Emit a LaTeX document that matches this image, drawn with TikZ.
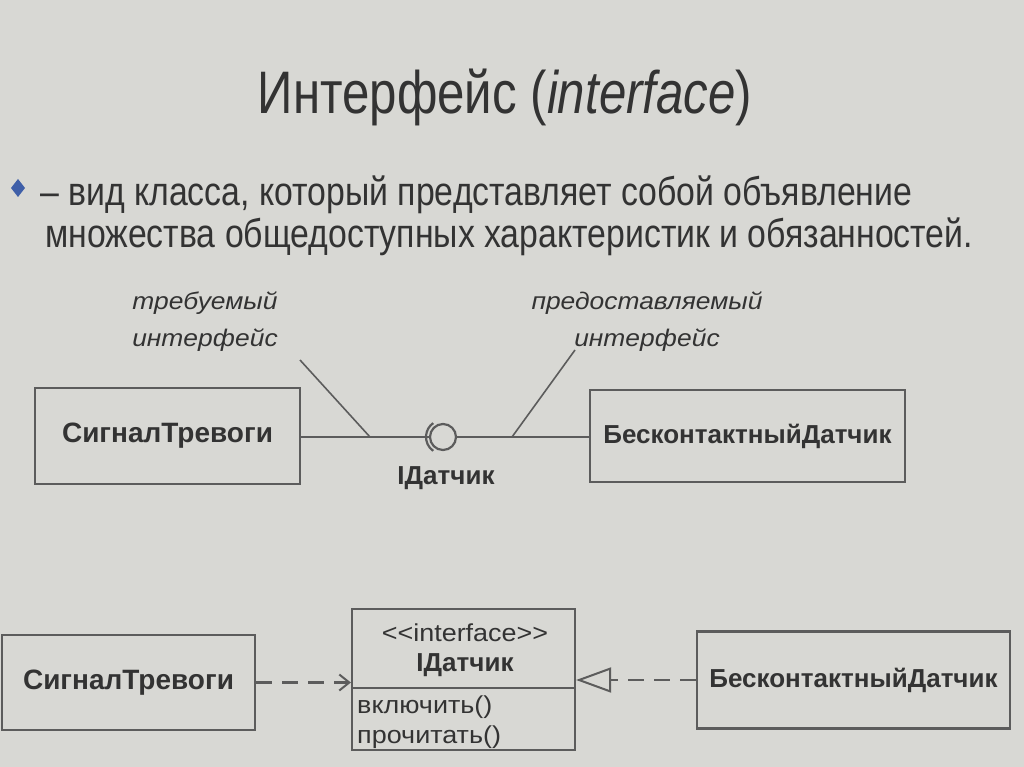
\documentclass[tikz,border=0pt]{standalone}
\usepackage{fontspec}
\setmainfont{Liberation Sans}
\newfontfamily\narrowfont[FakeStretch=0.82]{Liberation Sans}
\newfontfamily\bodyfont[FakeStretch=0.845]{Liberation Sans}
\newfontfamily\widefont[FakeStretch=1.1]{Liberation Sans}
\usetikzlibrary{arrows.meta}
\definecolor{bg}{HTML}{D8D8D4}
\definecolor{ink}{HTML}{333333}
\definecolor{ln}{HTML}{5C5C5C}
\definecolor{bul}{HTML}{3F5FA8}
\begin{document}
\begin{tikzpicture}[x=1pt,y=-1pt,
  cls/.style={draw=ln, line width=2.2pt, inner sep=0pt},
  clsname/.style={font=\fontsize{26}{30}\selectfont\bfseries, text=ink},
  note/.style={font=\widefont\fontsize{24}{37}\selectfont\itshape, text=ink, align=center},
  conn/.style={draw=ln, line width=2.2pt},
  dashconn/.style={conn, dash pattern=on 16pt off 10pt},
  body/.style={font=\bodyfont\fontsize{40}{42}\selectfont, text=ink, anchor=west, inner sep=0pt},
  small/.style={font=\widefont\fontsize{24.5}{28}\selectfont, text=ink}
]
\fill[bg] (0,0) rectangle (1024,767);
\useasboundingbox (0,0) rectangle (1024,767);

% title
\node[font=\narrowfont\fontsize{60}{64}\selectfont, text=ink] (title) at (505,97) {Интерфейс (\textit{interface})};

% bullet text
\fill[bul] (18,179) -- (25,188) -- (18,197) -- (11,188) -- cycle;
\node[body] (l1) at (40,195) {– вид класса, который представляет собой объявление};
\node[body] (l2) at (45,237) {множества общедоступных характеристик и обязанностей.};

% top diagram
\node[cls, minimum width=265pt, minimum height=96pt] (tl) at (167.5,436) {};
\node[clsname, font=\fontsize{28}{32}\selectfont\bfseries] at (tl.center) {СигналТревоги};
\node[cls, minimum width=315pt, minimum height=92pt] (tr) at (747.5,436) {};
\node[clsname] at (tr.center) {БесконтактныйДатчик};

\node[circle, draw=ln, line width=2.2pt, minimum size=26pt, inner sep=0pt] (ball) at (443,437) {};
\draw[conn] ([shift={(125:17)}]ball.center) arc[start angle=125, end angle=235, radius=17];
\draw[conn] (tl.east |- ball.west) -- (ball.west);
\draw[conn] (ball.east) -- (tr.west |- ball.east);
\node[clsname] (iname) at (446,478) {IДатчик};

\node[note] (req) at (205,322) {требуемый\\интерфейс};
\node[note] (prov) at (647,322) {предоставляемый\\интерфейс};
\coordinate (rqs) at (300,360);
\coordinate (rqe) at (370,437);
\coordinate (pvs) at (575,350);
\coordinate (pve) at (512,437);
\draw[line width=1.6pt, draw=ln] (rqs) -- (rqe);
\draw[line width=1.6pt, draw=ln] (pvs) -- (pve);

% bottom diagram
\node[cls, minimum width=253pt, minimum height=95pt] (bl) at (128.5,682.5) {};
\node[clsname, font=\fontsize{28}{32}\selectfont\bfseries] at (bl.center) {СигналТревоги};
\node[cls, minimum width=313pt, minimum height=97pt] (br) at (853.5,680) {};
\node[clsname] at (br.center) {БесконтактныйДатчик};

\node[cls, minimum width=223pt, minimum height=141pt] (ibox) at (463.5,679.5) {};
\coordinate (div) at (0,688);
\draw[conn] (ibox.west |- div) -- (ibox.east |- div);
\node[small] (stereo) at (465,633) {<{}<interface>{}>};
\node[clsname] (iname2) at (465,665) {IДатчик};
\node[small, anchor=west, inner sep=0pt] (op1) at (357,707) {включить()};
\node[small, anchor=west, inner sep=0pt] (op2) at (357,737) {прочитать()};

\draw[dashconn, -{Straight Barb[length=10pt, width=16pt, line width=2pt]}] (bl.east) -- (ibox.west |- bl.east);
\draw[dashconn, -{Triangle[open, fill=bg, length=35pt, width=25pt, line width=2pt]}] (br.west) -- (ibox.east |- br.west);
\end{tikzpicture}
\end{document}
